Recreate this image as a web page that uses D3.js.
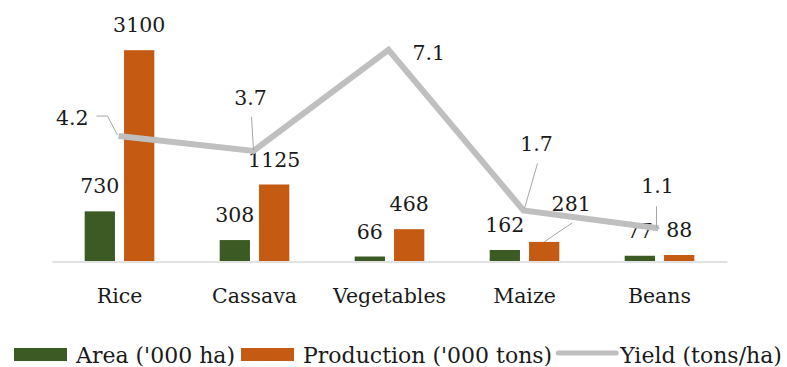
<!DOCTYPE html>
<html>
<head>
<meta charset="utf-8">
<script src="https://cdn.jsdelivr.net/npm/d3@7"></script>
<style>
  html, body { margin: 0; padding: 0; background: #ffffff; }
  svg { display: block; }
  text { font-family: "DejaVu Serif", serif; fill: #1a1a1a; }
</style>
</head>
<body>
<svg id="chart" width="787" height="367"></svg>
<script>
// ---- data ----
const categories = ["Rice", "Cassava", "Vegetables", "Maize", "Beans"];
const areaValues = [730, 308, 66, 162, 77];          // '000 ha
const productionValues = [3100, 1125, 468, 281, 88]; // '000 tons
const yieldValues = [4.2, 3.7, 7.1, 1.7, 1.1];       // tons/ha
const seriesNames = ["Area ('000 ha)", "Production ('000 tons)", "Yield (tons/ha)"];

// ---- layout / styling ----
const colors = { area: "#3b5a24", production: "#c55a12", yield: "#bfbfbf", axis: "#d9d9d9", leader: "#a6a6a6" };
const margin = { left: 52, right: 60, top: 23, bottom: 106 };
const W = 787, H = 367;
const baseY = H - margin.bottom;

// label offsets (dx, dy relative to the mark, plus leader path offsets)
const barLabelGap = 18;
const prodLabelOffsets = [null, null, null, { dx: 27, dy: -31, leader: [[0, 0], [28, -19]] }, null];
const yieldLabelOffsets = [
  { dx: -30, dy: -11, anchor: "end", leader: [[-22, -20], [-11, -20], [-1, -1]] },
  { dx: -3, dy: -46, anchor: "middle", leader: [[-2, -34], [0, -1]] },
  { dx: 24, dy: 10, anchor: "start", leader: null },
  { dx: 13, dy: -59, anchor: "middle", leader: [[14, -47], [1, -2]] },
  { dx: -1, dy: -35, anchor: "middle", leader: [[-2, -22], [-2, -1], [1, 0]] }
];

const svg = d3.select("#chart");

const x0 = d3.scaleBand().domain(categories).range([margin.left, W - margin.right]).paddingInner(0).paddingOuter(0);
const x1 = d3.scaleBand().domain(["area", "production"]).range([0, x0.bandwidth()])
  .paddingInner(9 / 39).paddingOuter(0.83);
const yBar = d3.scaleLinear().domain([0, 3500]).range([baseY, margin.top]);
const yLine = d3.scaleLinear().domain([0, 8]).range([baseY, margin.top]);

// axis baseline
const xAxis = d3.axisBottom(x0).tickSize(0).tickPadding(0);
const gx = svg.append("g").attr("transform", `translate(0,${baseY + 0.5})`).call(xAxis);
gx.select(".domain").attr("stroke", colors.axis).attr("stroke-width", 1.5);
gx.selectAll(".tick text")
  .attr("y", 0).attr("dy", 0)
  .attr("transform", "translate(0,41)")
  .style("font-family", "'DejaVu Serif', serif")
  .style("font-size", "20.5px")
  .attr("fill", "#1a1a1a");

// bars
const rows = categories.map((c, i) => ({ cat: c, i, area: areaValues[i], production: productionValues[i] }));
const groups = svg.append("g").selectAll("g").data(rows).join("g")
  .attr("transform", d => `translate(${x0(d.cat)},0)`);

groups.append("rect")
  .attr("x", x1("area")).attr("width", x1.bandwidth())
  .attr("y", d => yBar(d.area)).attr("height", d => baseY - yBar(d.area))
  .attr("fill", colors.area);
groups.append("rect")
  .attr("x", x1("production")).attr("width", x1.bandwidth())
  .attr("y", d => yBar(d.production)).attr("height", d => baseY - yBar(d.production))
  .attr("fill", colors.production);

// bar labels
groups.append("text")
  .attr("x", x1("area") + x1.bandwidth() / 2)
  .attr("y", d => yBar(d.area) - barLabelGap)
  .attr("text-anchor", "middle").style("font-size", "20.5px")
  .text(d => d.area);

groups.each(function (d) {
  const g = d3.select(this);
  const cx = x1("production") + x1.bandwidth() / 2;
  const top = yBar(d.production);
  const off = prodLabelOffsets[d.i];
  if (off) {
    g.append("path")
      .attr("d", d3.line()(off.leader.map(p => [cx + p[0], top + p[1]])))
      .attr("fill", "none").attr("stroke", colors.leader).attr("stroke-width", 1);
    g.append("text").attr("x", cx + off.dx).attr("y", top + off.dy)
      .attr("text-anchor", "middle").style("font-size", "20.5px").text(d.production);
  } else {
    g.append("text").attr("x", cx).attr("y", top - barLabelGap)
      .attr("text-anchor", "middle").style("font-size", "20.5px").text(d.production);
  }
});

// yield line
const linePts = categories.map((c, i) => [x0(c) + x0.bandwidth() / 2 - 1, yLine(yieldValues[i])]);
svg.append("path")
  .attr("d", d3.line()(linePts))
  .attr("fill", "none").attr("stroke", colors.yield).attr("stroke-width", 6)
  .attr("stroke-linejoin", "miter").attr("stroke-linecap", "butt");

// yield labels + leaders
linePts.forEach((p, i) => {
  const off = yieldLabelOffsets[i];
  if (off.leader) {
    svg.append("path")
      .attr("d", d3.line()(off.leader.map(q => [p[0] + q[0], p[1] + q[1]])))
      .attr("fill", "none").attr("stroke", colors.leader).attr("stroke-width", 1);
  }
  svg.append("text").attr("x", p[0] + off.dx).attr("y", p[1] + off.dy)
    .attr("text-anchor", off.anchor).style("font-size", "20.5px").text(yieldValues[i]);
});

// legend
const legend = svg.append("g");
const legY = 348, legH = 13, swW = 54, textBase = 363;
let lx = 14;
const legendItems = [
  { name: seriesNames[0], type: "rect", color: colors.area },
  { name: seriesNames[1], type: "rect", color: colors.production },
  { name: seriesNames[2], type: "line", color: colors.yield }
];
legendItems.forEach((it, k) => {
  if (it.type === "rect") {
    legend.append("rect").attr("x", lx).attr("y", legY).attr("width", swW - 1).attr("height", legH).attr("fill", it.color);
  } else {
    legend.append("line").attr("x1", lx).attr("x2", lx + swW + 4).attr("y1", legY + 5).attr("y2", legY + 5)
      .attr("stroke", it.color).attr("stroke-width", 5).attr("stroke-linecap", "round");
  }
  const tx = lx + swW + (it.type === "line" ? 8 : 8);
  const t = legend.append("text").attr("x", tx).attr("y", textBase).style("font-size", "22px").text(it.name);
  lx = tx + t.node().getComputedTextLength() + 6;
});
</script>
</body>
</html>
